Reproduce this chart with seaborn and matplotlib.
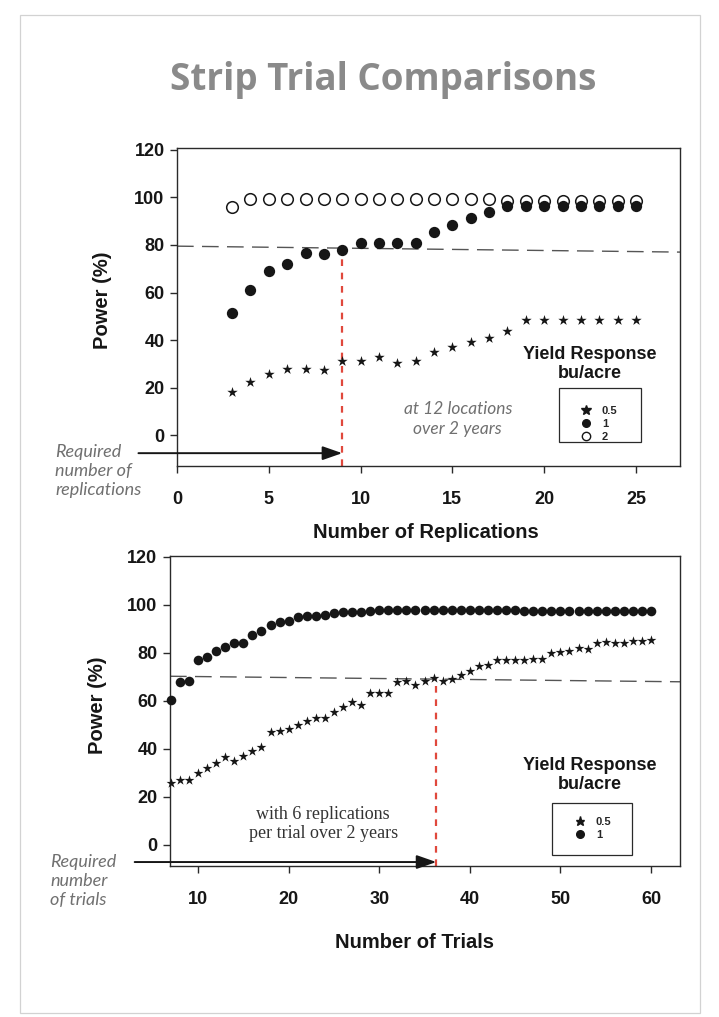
import matplotlib
matplotlib.use("Agg")
import matplotlib.pyplot as plt
import seaborn as sns
import pandas as pd
from matplotlib.patches import Rectangle
from matplotlib.lines import Line2D

sns.set_theme(style="ticks")
plt.rcParams['font.family'] = ['Liberation Sans', 'DejaVu Sans']

# ---- Power vs. number of replications (12 locations, 2 years) ----
reps = [3, 4, 5, 6, 7, 8, 9, 10, 11, 12, 13, 14, 15, 16, 17, 18, 19, 20, 21, 22, 23, 24, 25]
power_rep_05 = [18, 22.5, 25.5, 28, 28, 27.5, 31, 31, 33, 30.5, 31, 35, 37, 39, 41, 44,
                48.5, 48.5, 48.5, 48.5, 48.5, 48.5, 48.5]
power_rep_1 = [51.5, 61, 69, 72, 76.5, 76, 78, 81, 81, 81, 81, 85.5, 88.5, 91.5, 94,
               96.5, 96.5, 96.5, 96.5, 96.5, 96.5, 96.5, 96.5]
power_rep_2 = [96, 99.5, 99.5, 99.5, 99.5, 99.5, 99.5, 99.5, 99.5, 99.5, 99.5, 99.5, 99.5, 99.5, 99.5,
               98.5, 98.5, 98.5, 98.5, 98.5, 98.5, 98.5, 98.5]
rep_threshold = [79.5, 77]
rep_required = 9

# ---- Power vs. number of trials (6 replications per trial, 2 years) ----
trials = list(range(7, 61))
power_trial_05 = [26, 27, 27, 30, 32, 34, 36.5, 35, 37, 39, 41, 47, 47.5, 48.5, 50, 51.5,
                  53, 53, 55.5, 57.5, 59.5, 58.5, 63.5, 63.5, 63.5, 68, 68.5, 66.5, 68.5, 69.5,
                  68.5, 69, 71, 72.5, 74.5, 75, 77, 77, 77, 77, 77.5, 77.5, 80, 80.5,
                  81, 82, 81.5, 84, 84.5, 84, 84, 85, 85, 85.5]
power_trial_1 = [60.5, 68, 68.5, 77, 78.5, 81, 82.5, 84, 84, 87.5, 89, 91.5, 93, 93.5, 95,
                 95.5, 95.5, 96, 96.5, 97, 97, 97, 97.5,
                 98, 98, 98, 98, 98, 98, 98, 98, 98, 98, 98, 98, 98, 98, 98, 98,
                 97.5, 97.5, 97.5, 97.5, 97.5, 97.5, 97.5, 97.5, 97.5, 97.5, 97.5, 97.5, 97.5, 97.5, 97.5]
trial_threshold = [70.3, 68]
trial_required = 36.3

W, H = 719, 1017
fig = plt.figure(figsize=(W / 100, H / 100), dpi=100)
fig.patch.set_facecolor('white')

def fx(px):
    return px / W

def fy(py):
    return 1 - py / H

# page frame
fig.patches.append(Rectangle((fx(20), fy(1013)), fx(700) - fx(20), fy(15) - fy(1013),
                             transform=fig.transFigure, fill=False, ec='#d2d2d2', lw=0.9))

fig.text(fx(383), fy(80), 'Strip Trial Comparisons', ha='center', va='center',
         fontsize=26.5, fontweight='bold', color='#8a8a8a', family=['Open Sans', 'DejaVu Sans'])

ax1 = fig.add_axes([fx(177), fy(466), fx(680) - fx(177), fy(148) - fy(466)])
ax2 = fig.add_axes([fx(170), fy(866), fx(680) - fx(170), fy(556) - fy(866)])

ink = '#161616'
gray_note = '#707070'
red = '#e0483c'

def style_axes(ax):
    for s in ax.spines.values():
        s.set_color('#2a2a2a')
        s.set_linewidth(1.0)
    ax.tick_params(axis='both', direction='out', length=5, width=1, color='#2a2a2a',
                   labelsize=13, labelcolor=ink)
    ax.tick_params(axis='x', pad=13)
    ax.tick_params(axis='y', pad=4)
    for lab in ax.get_xticklabels() + ax.get_yticklabels():
        lab.set_fontweight('bold')

def marker_legend(ax, handles, center):
    leg = ax.legend(handles=handles, loc='center', bbox_to_anchor=center, bbox_transform=ax.transData,
                    frameon=False, fontsize=8, handlelength=1.0, handletextpad=0.9,
                    labelspacing=0.28, borderpad=0.2)
    for t in leg.get_texts():
        t.set_fontweight('bold')
    return leg

# ---------------- top panel ----------------
df_rep = pd.DataFrame({'reps': reps, 'p05': power_rep_05, 'p1': power_rep_1, 'p2': power_rep_2})
ax1.plot([0, 27.4], rep_threshold, color='#555555', lw=1.0, dashes=(12, 6), zorder=1)
ax1.plot([rep_required, rep_required], [-13, power_rep_1[reps.index(rep_required)]],
         color=red, lw=1.6, dashes=(3, 3), zorder=1)
sns.scatterplot(data=df_rep, x='reps', y='p2', marker='o', s=70, facecolor='white',
                edgecolor=ink, linewidth=1.1, ax=ax1, zorder=3)
sns.scatterplot(data=df_rep, x='reps', y='p1', marker='o', s=66, color=ink,
                edgecolor=ink, linewidth=0, ax=ax1, zorder=4)
sns.scatterplot(data=df_rep, x='reps', y='p05', marker='*', s=62, color=ink,
                edgecolor=ink, linewidth=0, ax=ax1, zorder=4)
ax1.set_xlim(0, 27.4)
ax1.set_ylim(-13, 120.8)
ax1.set_xticks([0, 5, 10, 15, 20, 25])
ax1.set_yticks([0, 20, 40, 60, 80, 100, 120])
style_axes(ax1)
ax1.set_xlabel('Number of Replications', fontsize=14.5, fontweight='bold', color=ink)
ax1.set_ylabel('Power (%)', fontsize=14.5, fontweight='bold', color=ink)
ax1.xaxis.set_label_coords(0.494, -0.18)
ax1.yaxis.set_label_coords(-0.13, 0.52)

ax1.annotate('', xy=(rep_required, -7.6), xytext=(-2.1, -7.6),
             arrowprops=dict(arrowstyle='-|>,head_length=1.0,head_width=0.35', color=ink, lw=1.4,
                             shrinkA=0, shrinkB=0),
             annotation_clip=False)
ax1.text(15.3, 6.6, 'at 12 locations\nover 2 years', ha='center', va='center', fontsize=12.5,
         style='italic', color=gray_note, linespacing=1.3, family=['Lato', 'DejaVu Sans'])
ax1.text(22.5, 29.9, 'Yield Response\nbu/acre', ha='center', va='center', fontsize=13,
         fontweight='bold', color=ink, linespacing=1.15)
ax1.add_patch(Rectangle((20.8, -2.9), 4.45, 22.7, fill=False, ec='#2a2a2a', lw=0.9, zorder=5))
h1 = [Line2D([], [], ls='', marker='*', color=ink, markersize=7, label='0.5'),
      Line2D([], [], ls='', marker='o', color=ink, markersize=5.5, label='1'),
      Line2D([], [], ls='', marker='o', mfc='white', mec=ink, mew=1.0, markersize=6, label='2')]
marker_legend(ax1, h1, (23.0, 4.6))

fig.text(fx(55), fy(471), 'Required\nnumber of\nreplications', ha='left', va='center', fontsize=13,
         style='italic', color=gray_note, linespacing=1.22, family=['Lato', 'DejaVu Sans'])

# ---------------- bottom panel ----------------
df_tr = pd.DataFrame({'trials': trials, 'p05': power_trial_05, 'p1': power_trial_1})
ax2.plot([6.9, 63.2], trial_threshold, color='#555555', lw=1.0, dashes=(12, 6), zorder=1)
ax2.plot([trial_required, trial_required], [-8.75, 69], color=red, lw=1.6, dashes=(3, 3), zorder=1)
sns.scatterplot(data=df_tr, x='trials', y='p1', marker='o', s=48, color=ink,
                edgecolor=ink, linewidth=0, ax=ax2, zorder=4, clip_on=False)
sns.scatterplot(data=df_tr, x='trials', y='p05', marker='*', s=55, color=ink,
                edgecolor=ink, linewidth=0, ax=ax2, zorder=4, clip_on=False)
ax2.set_xlim(6.9, 63.2)
ax2.set_ylim(-8.75, 120.4)
ax2.set_xticks([10, 20, 30, 40, 50, 60])
ax2.set_yticks([0, 20, 40, 60, 80, 100, 120])
style_axes(ax2)
ax2.set_xlabel('Number of Trials', fontsize=14.5, fontweight='bold', color=ink)
ax2.set_ylabel('Power (%)', fontsize=14.5, fontweight='bold', color=ink)
ax2.xaxis.set_label_coords(0.48, -0.215)
ax2.yaxis.set_label_coords(-0.124, 0.52)

ax2.annotate('', xy=(trial_required, -7.1), xytext=(3.0, -7.1),
             arrowprops=dict(arrowstyle='-|>,head_length=1.0,head_width=0.35', color=ink, lw=1.4,
                             shrinkA=0, shrinkB=0),
             annotation_clip=False)
ax2.text(23.8, 8.8, 'with 6 replications\nper trial over 2 years', ha='center', va='center',
         fontsize=13, color='#333333', linespacing=1.12, family=['Liberation Serif', 'DejaVu Serif'])
ax2.text(53.2, 29.2, 'Yield Response\nbu/acre', ha='center', va='center', fontsize=13,
         fontweight='bold', color=ink, linespacing=1.15)
ax2.add_patch(Rectangle((49.1, -4.2), 8.75, 21.7, fill=False, ec='#2a2a2a', lw=0.9, zorder=5))
h2 = [Line2D([], [], ls='', marker='*', color=ink, markersize=6.5, label='0.5'),
      Line2D([], [], ls='', marker='o', color=ink, markersize=5.5, label='1')]
marker_legend(ax2, h2, (53.6, 6.9))

fig.text(fx(50), fy(881), 'Required\nnumber\nof trials', ha='left', va='center', fontsize=13,
         style='italic', color=gray_note, linespacing=1.22, family=['Lato', 'DejaVu Sans'])

fig.savefig('out.png', dpi=100, facecolor='white')
